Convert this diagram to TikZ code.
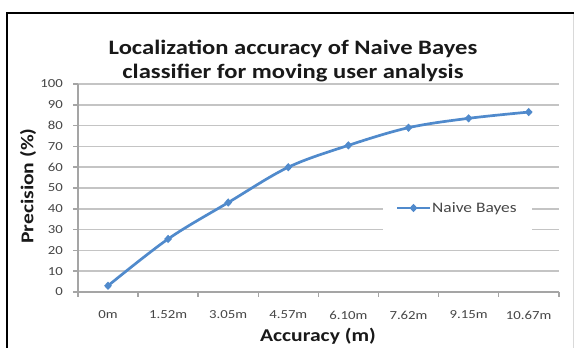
\documentclass[tikz,border=0pt]{standalone}
\usepackage{fontspec}
\setmainfont[FakeStretch=1.2]{Carlito}
\usetikzlibrary{shapes.geometric}
\definecolor{series}{RGB}{80,138,204}
\definecolor{gridc}{RGB}{196,196,196}
\definecolor{axisc}{RGB}{165,165,165}
\definecolor{labc}{RGB}{70,70,70}
\tikzset{
  gridline/.style={draw=gridc, line width=1.5pt},
  axisline/.style={draw=axisc, line width=1.5pt},
  ticklab/.style={text=labc, font=\fontsize{12.3}{14}\selectfont, inner sep=0pt},
  axtitle/.style={font=\fontsize{18}{21}\bfseries\selectfont, text=black!90, inner sep=0pt},
  dmark/.style={diamond, fill=series, inner sep=0pt, minimum width=8pt, minimum height=8.5pt},
  serline/.style={draw=series, line width=2.7pt, line join=round}
}
\begin{document}
\begin{tikzpicture}[x=1pt, y=-1pt]
\useasboundingbox (0,0) rectangle (574,348);
\fill[white] (0,0) rectangle (574,348);
% chart frame
\draw[black, line width=2.2pt] (7,13) -- (574,13);
\draw[black, line width=2.2pt] (7,12) -- (7,348);
\draw[gray!30, line width=1pt] (573,14) -- (573,348);
% title
\node[font=\fontsize{20.5}{24}\bfseries\selectfont, text=black!90, align=center, inner sep=0pt]
  (title) at (293,61) {Localization accuracy of Naive Bayes\\classifier for moving user analysis};
% horizontal gridlines and y labels
\foreach \v in {10,20,...,100}{
  \draw[gridline] (78,{292-2.08*\v}) -- (559,{292-2.08*\v});
}
\foreach \v in {0,10,...,100}{
  \draw[axisline] (73,{292-2.08*\v}) -- (78,{292-2.08*\v});
  \node[ticklab, anchor=east] (y\v) at (63,{292-2.08*\v}) {\v};
}
% axes
\draw[axisline] (78,84) -- (78,292);
\draw[axisline] (78,292) -- (559,292);
\foreach \k in {0,...,8}{
  \draw[axisline] ({78+60.1*\k},292) -- ({78+60.1*\k},297);
}
% category labels
\foreach \lab [count=\i from 0] in {0m,1.52m,3.05m,4.57m,6.10m,7.62m,9.15m,10.67m}{
  \node[ticklab] (x\i) at ({108+60.1*\i},315) {\lab};
}
% axis titles
\node[axtitle] (xt) at (318,336) {Accuracy (m)};
\node[axtitle, rotate=90] (yt) at (28,186) {Precision (\%)};
% data
\foreach \v [count=\i from 0] in {3,25.5,43,60,70.5,79,83.5,86.5}{
  \coordinate (p\i) at ({108+60.1*\i},{292-2.08*\v});
}
\draw[serline] plot[smooth, tension=0.55] coordinates {(p0) (p1) (p2) (p3) (p4) (p5) (p6) (p7)};
\foreach \i in {0,...,7}{ \node[dmark] (m\i) at (p\i) {}; }
% legend
\fill[white] (383,189) rectangle (532,234);
\coordinate (la) at (397,208);
\coordinate (lb) at (430,208);
\draw[serline] (la) -- (lb);
\node[dmark] (lm) at (413.5,208) {};
\node[ticklab, font=\fontsize{14.5}{17}\selectfont, anchor=west] (leg) at (432,209) {Naive Bayes};
\end{tikzpicture}
\end{document}
